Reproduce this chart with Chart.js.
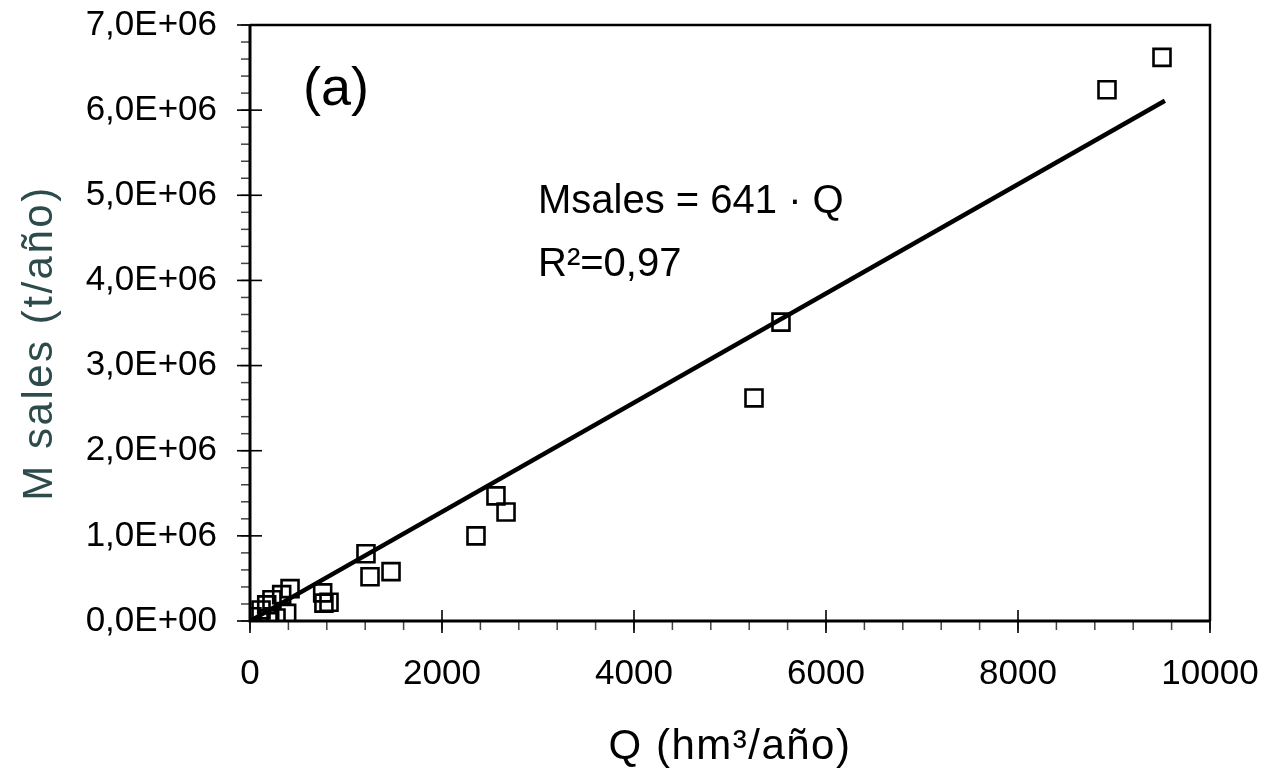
<!DOCTYPE html>
<html>
<head>
<meta charset="utf-8">
<script src="https://cdn.jsdelivr.net/npm/chart.js@4/dist/chart.umd.min.js"></script>
<style>
  body { margin: 0; background: #fff; }
  #wrap { width: 1268px; height: 781px; }
</style>
</head>
<body>
<div id="wrap"><canvas id="chart" width="1268" height="781"></canvas></div>
<script>
// Q (hm3/año) vs M sales (t/año)
var qValues = [9500, 8927, 5531, 5250, 2562, 2667, 2354, 1208, 1250, 1469,
               757, 823, 770, 417, 330, 229, 174, 115, 20, 382, 271, 188];
var mValues = [6.62e6, 6.24e6, 3.51e6, 2.62e6, 1.47e6, 1.28e6, 1.0e6, 0.79e6, 0.52e6, 0.58e6,
               0.33e6, 0.22e6, 0.21e6, 0.38e6, 0.31e6, 0.25e6, 0.19e6, 0.13e6, 0.05e6, 0.09e6, 0.035e6, 0.025e6];

// fitted line Msales = 641 * Q
var fitQ = [0, 9530];
var fitM = [0, 6.11e6];

var xTicks = [0, 2000, 4000, 6000, 8000, 10000];
var yTicks = [0, 1e6, 2e6, 3e6, 4e6, 5e6, 6e6, 7e6];

var FONT = "'Liberation Sans', Arial, sans-serif";

function pts(xs, ys) {
    var out = [];
    for (var i = 0; i < xs.length; i++) out.push({x: xs[i], y: ys[i]});
    return out;
}

function yLabel(v) {
    if (v === 0) return '0,0E+00';
    return (v / 1e6).toFixed(1).replace('.', ',') + 'E+06';
}

// frame, tick marks, titles and notes
var framePlugin = {
    id: 'frame',
    afterDraw: function(chart) {
        var ctx = chart.ctx;
        var a = chart.chartArea;
        var xs = chart.scales.x, ys = chart.scales.y;
        ctx.save();

        // minor ticks
        ctx.lineWidth = 1.5;
        ctx.strokeStyle = '#444';
        for (var v = 0; v <= 10000; v += 400) {
            var px = xs.getPixelForValue(v);
            ctx.beginPath(); ctx.moveTo(px, a.bottom); ctx.lineTo(px, a.bottom + 9); ctx.stroke();
        }
        for (var w = 0; w <= 7e6; w += 2e5) {
            var py = ys.getPixelForValue(w);
            ctx.beginPath(); ctx.moveTo(a.left - 9, py); ctx.lineTo(a.left, py); ctx.stroke();
        }
        // major ticks
        ctx.strokeStyle = '#000';
        ctx.lineWidth = 1.6;
        xTicks.forEach(function(t) {
            var px = xs.getPixelForValue(t);
            ctx.beginPath(); ctx.moveTo(px, a.bottom - 11); ctx.lineTo(px, a.bottom + 12); ctx.stroke();
        });
        yTicks.forEach(function(t) {
            var py = ys.getPixelForValue(t);
            ctx.beginPath(); ctx.moveTo(a.left - 13, py); ctx.lineTo(a.left + 12, py); ctx.stroke();
        });

        // box
        ctx.lineWidth = 2.5;
        ctx.beginPath();
        ctx.moveTo(a.left, a.top); ctx.lineTo(a.right, a.top); ctx.lineTo(a.right, a.bottom);
        ctx.stroke();
        ctx.lineWidth = 3;
        ctx.beginPath();
        ctx.moveTo(a.left, a.top); ctx.lineTo(a.left, a.bottom); ctx.lineTo(a.right, a.bottom);
        ctx.stroke();

        // notes inside the plot
        ctx.fillStyle = '#000';
        ctx.textAlign = 'left';
        ctx.textBaseline = 'alphabetic';
        ctx.font = '54px ' + FONT;
        ctx.fillText('(a)', a.left + 53, a.top + 80);
        ctx.font = '40px ' + FONT;
        ctx.fillText('Msales = 641 \u00b7 Q', a.left + 288, a.top + 188);
        ctx.fillText('R\u00b2=0,97', a.left + 288, a.top + 251);

        // axis titles
        ctx.textAlign = 'center';
        ctx.font = '42px ' + FONT;
        ctx.letterSpacing = '1.5px';
        ctx.fillText('Q (hm\u00b3/a\u00f1o)', (a.left + a.right) / 2, 759);

        ctx.save();
        ctx.translate(40, 343);
        ctx.rotate(-Math.PI / 2);
        ctx.fillStyle = '#2d4b4b';
        ctx.textBaseline = 'middle';
        ctx.font = '42px ' + FONT;
        ctx.letterSpacing = '2.5px';
        ctx.fillText('M sales (t/a\u00f1o)', 0, 0);
        ctx.restore();

        ctx.restore();
    }
};

var ctx = document.getElementById('chart').getContext('2d');
new Chart(ctx, {
    type: 'scatter',
    data: {
        datasets: [{
            type: 'line',
            data: pts(fitQ, fitM),
            borderColor: '#000',
            borderWidth: 4.5,
            pointRadius: 0,
            fill: false,
            tension: 0
        }, {
            data: pts(qValues, mValues),
            pointStyle: 'rect',
            pointRadius: 12,
            pointBorderWidth: 2.6,
            pointBorderColor: '#000',
            pointBackgroundColor: 'rgba(0,0,0,0)',
            borderColor: '#000',
            backgroundColor: 'rgba(0,0,0,0)'
        }]
    },
    options: {
        responsive: false,
        animation: false,
        layout: { padding: { left: 0, right: 58, top: 25, bottom: 0 } },
        plugins: {
            legend: { display: false },
            tooltip: { enabled: false }
        },
        scales: {
            x: {
                type: 'linear',
                min: 0,
                max: 10000,
                afterBuildTicks: function(s) { s.ticks = xTicks.map(function(v) { return {value: v}; }); },
                afterFit: function(s) { s.height = 160; s.paddingLeft = 0; s.paddingRight = 0; },
                grid: { display: false, drawTicks: false },
                border: { display: false },
                ticks: {
                    autoSkip: false,
                    maxRotation: 0,
                    padding: 32,
                    color: '#000',
                    font: { family: FONT, size: 35 },
                    callback: function(v) { return String(v); }
                }
            },
            y: {
                type: 'linear',
                min: 0,
                max: 7e6,
                afterBuildTicks: function(s) { s.ticks = yTicks.map(function(v) { return {value: v}; }); },
                afterFit: function(s) { s.width = 250; s.paddingTop = 0; s.paddingBottom = 0; },
                grid: { display: false, drawTicks: false },
                border: { display: false },
                ticks: {
                    autoSkip: false,
                    padding: 33,
                    color: '#000',
                    font: { family: FONT, size: 35 },
                    callback: function(v) { return yLabel(v); }
                }
            }
        }
    },
    plugins: [framePlugin]
});
</script>
</body>
</html>
